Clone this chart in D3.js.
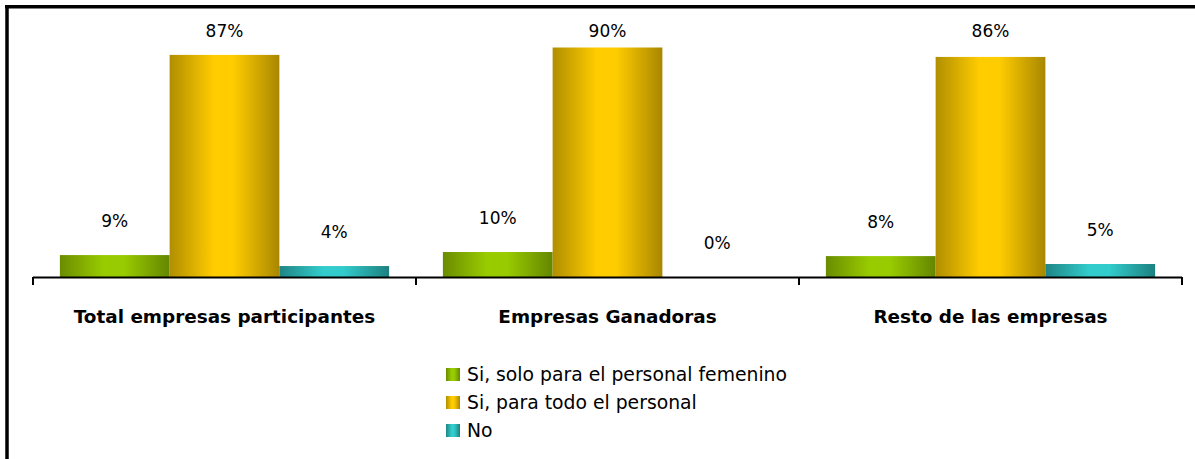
<!DOCTYPE html>
<html>
<head>
<meta charset="utf-8">
<script src="https://cdn.jsdelivr.net/npm/d3@7"></script>
<style>
  html, body { margin: 0; padding: 0; background: #fff; overflow: hidden; }
  svg { display: block; overflow: hidden; }
</style>
</head>
<body>
<svg id="chart" width="1195" height="459"></svg>
<script>
// ---- data ----
const categories = ["Total empresas participantes", "Empresas Ganadoras", "Resto de las empresas"];
const seriesNames = ["Si, solo para el personal femenino", "Si, para todo el personal", "No"];
const soloFemenino = [8.6, 9.8, 8.2];
const todoPersonal = [87.1, 90.0, 86.3];
const noValues = [4.3, 0.0, 5.1];
const valueLabels = [["9%", "87%", "4%"], ["10%", "90%", "0%"], ["8%", "86%", "5%"]];

// ---- styling ----
const seriesColors = [
  { dark: "#6a8c00", mid: "#99cc00", dark2: "#648600" },
  { dark: "#b08e00", mid: "#ffcc00", dark2: "#a88700" },
  { dark: "#1f8585", mid: "#33cccc", dark2: "#1d8080" }
];

const svg = d3.select("#chart");
svg.append("rect").attr("x", 0).attr("y", 0).attr("width", 1195).attr("height", 459).attr("fill", "#fff");
const defs = svg.append("defs");
seriesColors.forEach((c, i) => {
  const g = defs.append("linearGradient").attr("id", "grad" + i)
    .attr("x1", "0%").attr("x2", "100%").attr("y1", "0%").attr("y2", "0%");
  g.append("stop").attr("offset", "0%").attr("stop-color", c.dark);
  g.append("stop").attr("offset", "40%").attr("stop-color", c.mid);
  g.append("stop").attr("offset", "58%").attr("stop-color", c.mid);
  g.append("stop").attr("offset", "100%").attr("stop-color", c.dark2);
});

// frame (only top and left edges are visible in the crop)
svg.append("line").attr("x1", 5).attr("x2", 1195).attr("y1", 6.75).attr("y2", 6.75)
  .attr("stroke", "#000").attr("stroke-width", 3.5);
svg.append("line").attr("x1", 7).attr("x2", 7).attr("y1", 5).attr("y2", 459)
  .attr("stroke", "#000").attr("stroke-width", 3.5);

const plotLeft = 33, plotRight = 1182, baseY = 277, topY = 22;
const x0 = d3.scaleBand().domain(categories).range([plotLeft, plotRight]).paddingInner(0).paddingOuter(0);
const x1 = d3.scaleBand().domain(d3.range(3)).range([0, x0.bandwidth()]).paddingOuter(0.245).paddingInner(0);
const y = d3.scaleLinear().domain([0, 100]).range([baseY, topY]);

const seriesValues = [soloFemenino, todoPersonal, noValues];

const groups = svg.append("g").selectAll("g").data(categories).join("g")
  .attr("transform", d => `translate(${x0(d)},0)`);

groups.each(function (cat, ci) {
  const g = d3.select(this);
  const rows = seriesValues.map((vals, si) => ({ si, v: vals[ci], label: valueLabels[ci][si] }));
  g.selectAll("rect").data(rows).join("rect")
    .attr("x", d => x1(d.si))
    .attr("y", d => y(d.v))
    .attr("width", x1.bandwidth())
    .attr("height", d => baseY - y(d.v))
    .attr("fill", d => `url(#grad${d.si})`);
  g.selectAll("text").data(rows).join("text")
    .attr("x", d => x1(d.si) + x1.bandwidth() / 2)
    .attr("y", d => Math.max(y(d.v) - 34, topY + 9))
    .attr("text-anchor", "middle")
    .attr("dominant-baseline", "central")
    .attr("font-family", "'DejaVu Sans', Verdana, sans-serif")
    .attr("font-size", 17)
    .attr("fill", "#000")
    .text(d => d.label);
});

// axis
const axis = d3.axisBottom(x0).tickSize(0).tickFormat("");
const axG = svg.append("g").attr("transform", `translate(0,${baseY})`).call(axis);
axG.select(".domain").remove();
axG.append("line").attr("x1", plotLeft).attr("x2", plotRight).attr("y1", 0.5).attr("y2", 0.5)
  .attr("stroke", "#000").attr("stroke-width", 2);
const bounds = [plotLeft].concat(categories.map(c => x0(c) + x0.bandwidth()));
axG.selectAll("line.tk").data(bounds).join("line").attr("class", "tk")
  .attr("x1", d => d).attr("x2", d => d).attr("y1", 0).attr("y2", 8)
  .attr("stroke", "#000").attr("stroke-width", 2);
axG.selectAll("text.cat").data(categories).join("text").attr("class", "cat")
  .attr("x", d => x0(d) + x0.bandwidth() / 2)
  .attr("y", 46)
  .attr("text-anchor", "middle")
  .attr("font-family", "'DejaVu Sans', Verdana, sans-serif")
  .attr("font-weight", "bold")
  .attr("font-size", 18.4)
  .attr("fill", "#000")
  .text(d => d);

// legend
const legend = svg.append("g").attr("transform", "translate(446,368)");
const li = legend.selectAll("g").data(seriesNames).join("g")
  .attr("transform", (d, i) => `translate(0,${i * 28})`);
li.append("rect").attr("width", 14).attr("height", 13).attr("fill", (d, i) => `url(#grad${i})`);
li.append("text").attr("x", 21).attr("y", 6.5).attr("dominant-baseline", "central")
  .attr("font-family", "'DejaVu Sans', Verdana, sans-serif")
  .attr("font-size", 18.8)
  .attr("fill", "#000")
  .text(d => d);
</script>
</body>
</html>
